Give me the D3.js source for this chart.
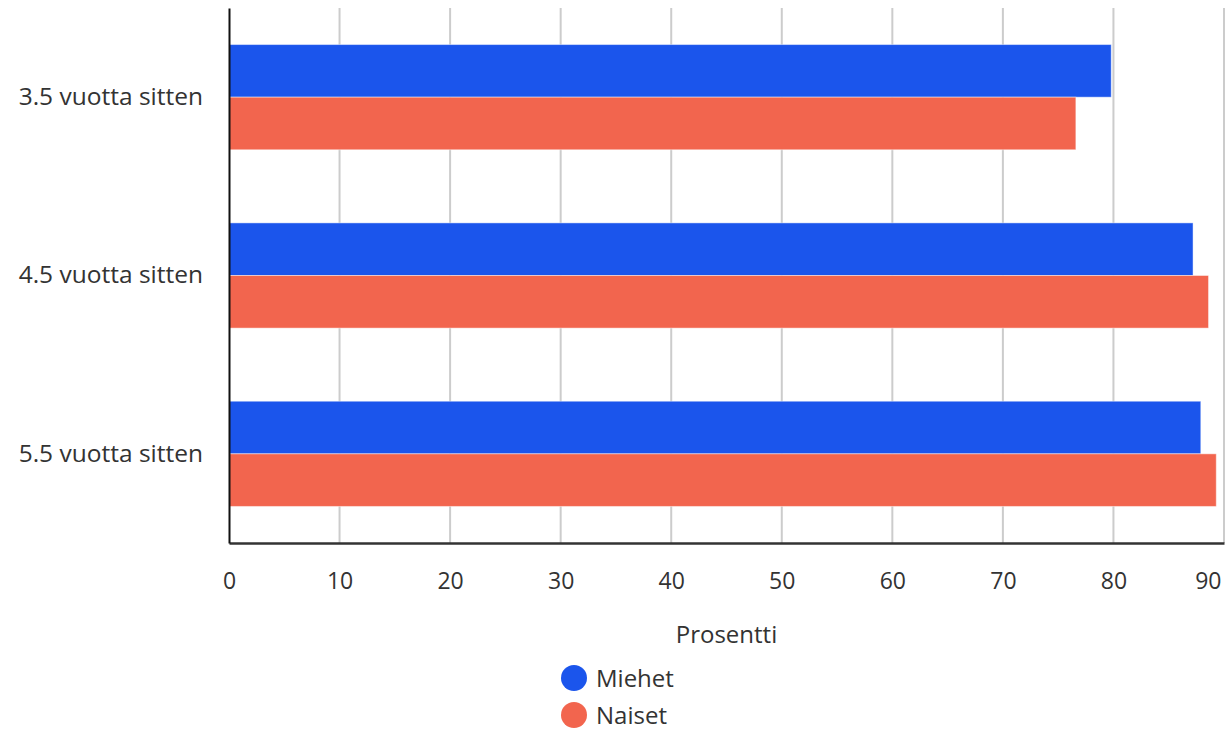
<!DOCTYPE html>
<html><head><meta charset="utf-8">
<script src="https://cdn.jsdelivr.net/npm/d3@7"></script>
<style>body{margin:0;background:#fff}svg{display:block;font-family:"Open Sans","Noto Sans",sans-serif}</style>
</head><body><svg id="c" width="1226" height="731"></svg>
<script>
const categories = ["3.5 vuotta sitten", "4.5 vuotta sitten", "5.5 vuotta sitten"];
const seriesNames = ["Miehet", "Naiset"];
const miehet = [79.8, 87.2, 87.9];
const naiset = [76.6, 88.6, 89.3];
const xTicks = [0, 10, 20, 30, 40, 50, 60, 70, 80, 90];
const colors = ["#1b55ec", "#f2654e"];
const xTitle = "Prosentti";

(function () {
const svg = d3.select("#c");
const pL = 229, pR = 1224, pT = 8, pB = 543;
const ff = "'Open Sans','Noto Sans',sans-serif";
const x = d3.scaleLinear().domain([0, 90]).range([pL, pR]);
const y = d3.scaleBand().domain(categories).range([pT, pB]).paddingInner(0.41).paddingOuter(0.205);
const y2 = d3.scaleBand().domain(seriesNames).range([0, y.bandwidth()]);
const values = [miehet, naiset];

// grid
svg.append("g").selectAll("line").data(xTicks.slice(1)).join("line")
  .attr("x1", d => x(d)).attr("x2", d => x(d)).attr("y1", pT).attr("y2", pB)
  .attr("stroke", "#cccccc").attr("stroke-width", 2);

// bars
categories.forEach((c, i) => {
  seriesNames.forEach((s, j) => {
    svg.append("rect")
      .attr("x", x(0)).attr("y", y(c) + y2(s))
      .attr("width", x(values[j][i]) - x(0)).attr("height", y2.bandwidth())
      .attr("fill", colors[j]).attr("stroke", "rgba(255,255,255,0.45)").attr("stroke-width", 1);
  });
});

// axes
const xAxis = svg.append("g").attr("transform", `translate(0,${pB})`)
  .call(d3.axisBottom(x).tickValues(xTicks).tickSize(0).tickPadding(30));
xAxis.select(".domain").attr("stroke", "#333").attr("stroke-width", 2.5);
xAxis.selectAll("text").attr("font-size", 23).attr("fill", "#333").attr("font-family", ff);
xAxis.selectAll(".tick").filter(d => d === 90).select("text")
  .attr("text-anchor", "end").attr("x", -3);

const yAxis = svg.append("g").attr("transform", `translate(${pL},0)`)
  .call(d3.axisLeft(y).tickSize(0).tickPadding(26));
yAxis.select(".domain").attr("stroke", "#111").attr("stroke-width", 2);
yAxis.selectAll("text").attr("font-size", 24.5).attr("fill", "#333").attr("font-family", ff);

svg.append("text").attr("x", (pL + pR) / 2).attr("y", 643).attr("text-anchor", "middle")
  .attr("font-size", 24).attr("fill", "#333").text(xTitle);

// legend
const lg = svg.append("g").selectAll("g").data(seriesNames).join("g")
  .attr("transform", (d, i) => `translate(574,${678 + i * 37})`);
lg.append("circle").attr("r", 13).attr("fill", (d, i) => colors[i]);
lg.append("text").attr("x", 22).attr("y", 9).attr("font-size", 24).attr("fill", "#333").text(d => d);
})();
</script></body></html>
